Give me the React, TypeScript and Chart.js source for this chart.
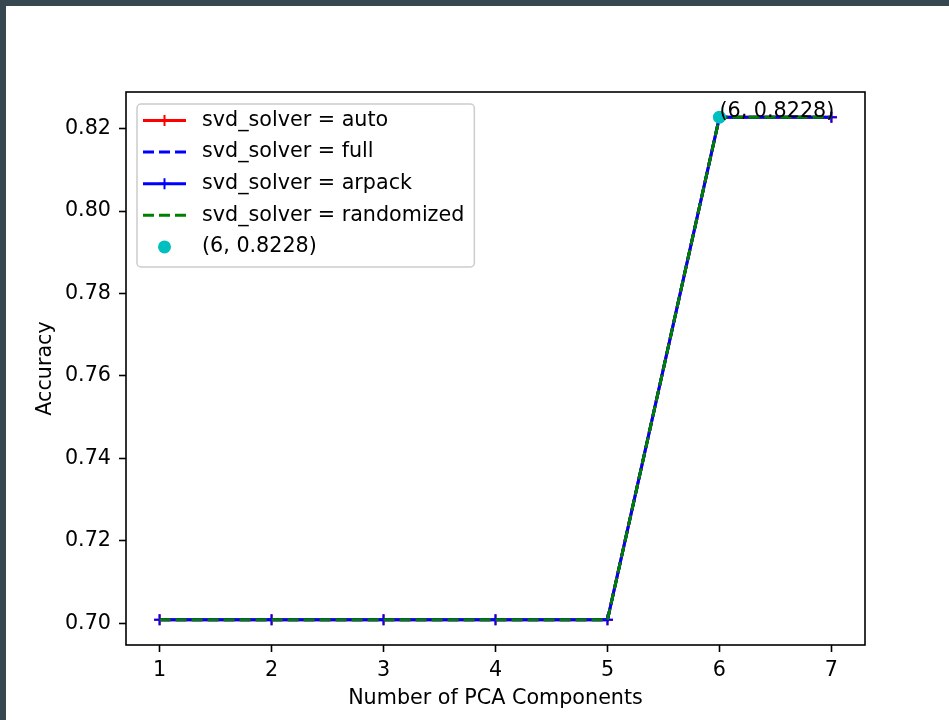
import React, { useEffect, useRef } from "react";
import { Chart, registerables } from "chart.js";

Chart.register(...registerables);

const components = [1, 2, 3, 4, 5, 6, 7];
const accAuto = [0.7008, 0.7008, 0.7008, 0.7008, 0.7008, 0.8228, 0.8228];
const accFull = [0.7008, 0.7008, 0.7008, 0.7008, 0.7008, 0.8228, 0.8228];
const accArpack = [0.7008, 0.7008, 0.7008, 0.7008, 0.7008, 0.8228, 0.8228];
const accRandomized = [0.7008, 0.7008, 0.7008, 0.7008, 0.7008, 0.8228, 0.8228];
const bestX = 6;
const bestY = 0.8228;
const xTickValues = [1, 2, 3, 4, 5, 6, 7];
const yTickValues = [0.7, 0.72, 0.74, 0.76, 0.78, 0.8, 0.82];
const seriesLabels = [
  "svd_solver = auto",
  "svd_solver = full",
  "svd_solver = arpack",
  "svd_solver = randomized",
];
const bestLabel = "(6, 0.8228)";
const xTitle = "Number of PCA Components";
const yTitle = "Accuracy";

const FONT = '"DejaVu Sans", sans-serif';
const FS = 20.7;

function pts(ys: number[]) {
  return components.map((x, i) => ({ x, y: ys[i] }));
}

function drawCross(ctx: CanvasRenderingContext2D, x: number, y: number, r: number, color: string, lw: number) {
  ctx.save();
  ctx.strokeStyle = color;
  ctx.lineWidth = lw;
  ctx.setLineDash([]);
  ctx.beginPath();
  ctx.moveTo(x - r, y);
  ctx.lineTo(x + r, y);
  ctx.moveTo(x, y - r);
  ctx.lineTo(x, y + r);
  ctx.stroke();
  ctx.restore();
}

const boxPlugin = {
  id: "mplBox",
  afterDatasetsDraw(chart: any) {
    const { ctx, chartArea, scales } = chart;
    ctx.save();
    const px = scales.x.getPixelForValue(bestX);
    const py = scales.y.getPixelForValue(bestY);
    ctx.font = `${FS}px ${FONT}`;
    ctx.fillStyle = "#000";
    ctx.textAlign = "left";
    ctx.textBaseline = "alphabetic";
    ctx.fillText(bestLabel, px, py);
    ctx.strokeStyle = "#000";
    ctx.lineWidth = 1.6;
    ctx.strokeRect(chartArea.left, chartArea.top, chartArea.right - chartArea.left, chartArea.bottom - chartArea.top);
    ctx.restore();
  },
};

const legendPlugin = {
  id: "mplLegend",
  afterDraw(chart: any) {
    const { ctx, chartArea } = chart;
    const datasets = chart.data.datasets;
    ctx.save();
    ctx.font = `${FS}px ${FONT}`;
    const textW = Math.max(...datasets.map((d: any) => ctx.measureText(d.label).width));
    const x0 = chartArea.left + 11;
    const y0 = chartArea.top + 12;
    const handleX = x0 + 6;
    const handleLen = 43;
    const textX = x0 + 65;
    const w = textX - x0 + textW + 10;
    const rowStart = 16.5;
    const rowGap = 31.6;
    const h = 163;
    const r = 4;
    ctx.beginPath();
    ctx.moveTo(x0 + r, y0);
    ctx.lineTo(x0 + w - r, y0);
    ctx.arcTo(x0 + w, y0, x0 + w, y0 + r, r);
    ctx.lineTo(x0 + w, y0 + h - r);
    ctx.arcTo(x0 + w, y0 + h, x0 + w - r, y0 + h, r);
    ctx.lineTo(x0 + r, y0 + h);
    ctx.arcTo(x0, y0 + h, x0, y0 + h - r, r);
    ctx.lineTo(x0, y0 + r);
    ctx.arcTo(x0, y0, x0 + r, y0, r);
    ctx.closePath();
    ctx.fillStyle = "rgba(255,255,255,0.8)";
    ctx.fill();
    ctx.strokeStyle = "#cccccc";
    ctx.lineWidth = 1.5;
    ctx.stroke();

    datasets.forEach((d: any, i: number) => {
      const yy = y0 + rowStart + i * rowGap;
      if (d.type === "scatter") {
        ctx.beginPath();
        ctx.fillStyle = d.backgroundColor;
        ctx.arc(handleX + handleLen / 2, yy, d.pointRadius, 0, Math.PI * 2);
        ctx.fill();
      } else {
        ctx.save();
        ctx.strokeStyle = d.borderColor;
        ctx.lineWidth = d.borderWidth;
        ctx.setLineDash(d.borderDash || []);
        ctx.beginPath();
        ctx.moveTo(handleX, yy);
        ctx.lineTo(handleX + handleLen, yy);
        ctx.stroke();
        ctx.restore();
        if (d.pointRadius > 0) {
          drawCross(ctx, handleX + handleLen / 2, yy, d.pointRadius, d.pointBorderColor, d.pointBorderWidth);
        }
      }
      ctx.fillStyle = "#000";
      ctx.textAlign = "left";
      ctx.textBaseline = "middle";
      ctx.fillText(d.label, textX, yy);
    });
    ctx.restore();
  },
};

export default function App() {
  const ref = useRef<HTMLCanvasElement | null>(null);

  useEffect(() => {
    if (!ref.current) return;
    const allY = [...accAuto, ...accFull, ...accArpack, ...accRandomized, bestY];
    const yLo = Math.min(...allY);
    const yHi = Math.max(...allY);
    const yM = (yHi - yLo) * 0.05;
    const xLo = Math.min(...components);
    const xHi = Math.max(...components);
    const xM = (xHi - xLo) * 0.05;

    const lineDs = (label: string, ys: number[], color: string, dashed: boolean, marker: boolean, order: number) => ({
      type: "line",
      label,
      data: pts(ys),
      borderColor: color,
      backgroundColor: color,
      borderWidth: 3,
      borderDash: dashed ? [11, 5] : [],
      pointStyle: "cross",
      pointRadius: marker ? 5.5 : 0,
      pointHoverRadius: marker ? 5.5 : 0,
      pointBorderColor: color,
      pointBorderWidth: 2,
      tension: 0,
      fill: false,
      order,
    });

    const chart = new Chart(ref.current, {
      type: "line",
      data: {
        datasets: [
          lineDs(seriesLabels[0], accAuto, "#ff0000", false, true, 5),
          lineDs(seriesLabels[1], accFull, "#0000ff", true, false, 4),
          lineDs(seriesLabels[2], accArpack, "#0000ff", false, true, 3),
          lineDs(seriesLabels[3], accRandomized, "#008000", true, false, 2),
          {
            type: "scatter",
            label: bestLabel,
            data: [{ x: bestX, y: bestY }],
            backgroundColor: "#00bfbf",
            borderWidth: 0,
            pointRadius: 6.5,
            pointHoverRadius: 6.5,
            order: 1,
          },
        ] as any,
      },
      options: {
        responsive: false,
        animation: false,
        devicePixelRatio: 1,
        events: [],
        layout: { padding: { left: 0, top: 86, right: 84, bottom: 0 } },
        plugins: { legend: { display: false }, tooltip: { enabled: false } },
        scales: {
          x: {
            type: "linear",
            min: xLo - xM,
            max: xHi + xM,
            afterBuildTicks: (s: any) => {
              s.ticks = xTickValues.map((v) => ({ value: v }));
            },
            afterFit: (s: any) => {
              s.height = 75;
            },
            border: { display: false },
            grid: { drawOnChartArea: false, drawTicks: true, tickLength: 7, tickWidth: 1.6, tickColor: "#000", color: "#000" },
            ticks: {
              color: "#000",
              font: { family: FONT, size: FS },
              padding: 6,
              maxRotation: 0,
              autoSkip: false,
              callback: (v: any) => String(v),
            },
            title: {
              display: true,
              text: xTitle,
              color: "#000",
              font: { family: FONT, size: FS, lineHeight: 1.2 },
              padding: { top: 0, bottom: 9 },
            },
          },
          y: {
            type: "linear",
            min: yLo - yM,
            max: yHi + yM,
            afterBuildTicks: (s: any) => {
              s.ticks = yTickValues.map((v) => ({ value: v }));
            },
            afterFit: (s: any) => {
              s.width = 120;
            },
            border: { display: false },
            grid: { drawOnChartArea: false, drawTicks: true, tickLength: 7, tickWidth: 1.6, tickColor: "#000", color: "#000" },
            ticks: {
              color: "#000",
              font: { family: FONT, size: FS },
              padding: 8,
              autoSkip: false,
              callback: (v: any) => Number(v).toFixed(2),
            },
            title: {
              display: true,
              text: yTitle,
              color: "#000",
              font: { family: FONT, size: FS, lineHeight: 1.2 },
              padding: { top: 27, bottom: 0 },
            },
          },
        },
      } as any,
      plugins: [boxPlugin, legendPlugin],
    });
    return () => chart.destroy();
  }, []);

  return (
    <div style={{ position: "fixed", left: 0, top: 0, width: 949, height: 720, background: "#37474f" }}>
      <canvas
        ref={ref}
        width={943}
        height={714}
        style={{ position: "absolute", left: 6, top: 6, width: 943, height: 714, background: "#ffffff" }}
      />
    </div>
  );
}
